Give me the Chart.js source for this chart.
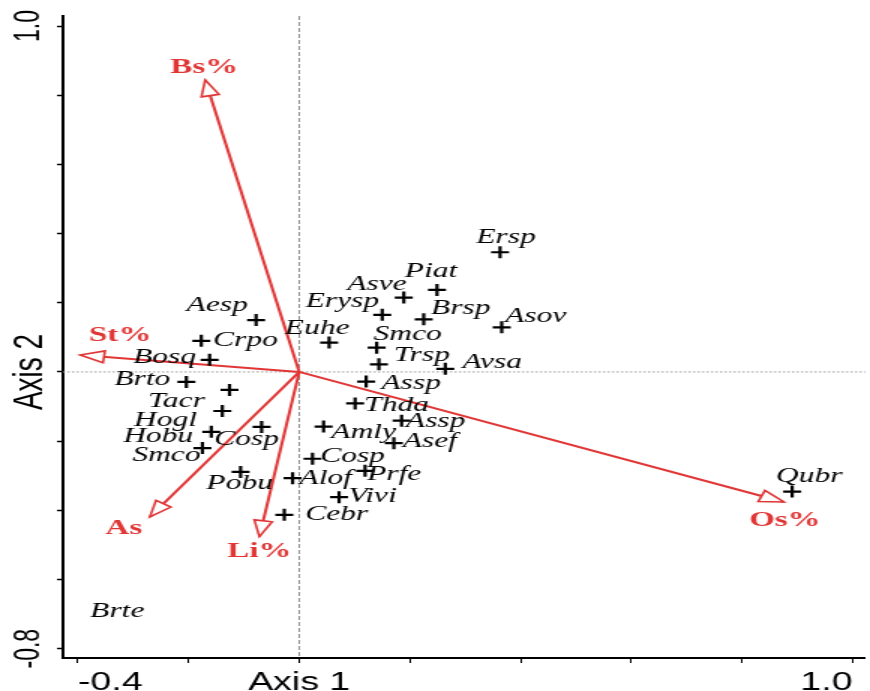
<!DOCTYPE html>
<html><head><meta charset="utf-8">
<script src="https://cdn.jsdelivr.net/npm/chart.js@4/dist/chart.umd.min.js"></script>
<style>html,body{margin:0;padding:0;background:#fff;overflow:hidden;width:870px;height:691px}
#wrap{width:585px;height:691px;transform:scaleX(1.5);transform-origin:0 0}
#c{display:block}</style>
</head><body>
<div id="wrap"><canvas id="c" width="585" height="691" style="width:585px;height:691px"></canvas></div>
<script>
// ---- data ----
const speciesNames = ['Ersp','Piat','Asve','Erysp','Brsp','Asov','Euhe','Smco','Trsp','Avsa','Assp','Thda','Assp','Amly','Asef','Cosp','Alof','Prfe','Vivi','Cebr','Qubr','Aesp','Crpo','Bosq','Brto','Tacr','Hogl','Hobu','Smco','Cosp','Pobu','Brte'];
const speciesX = [0.363,0.249,0.189,0.150,0.225,0.366,0.054,0.140,0.144,0.264,0.121,0.101,0.185,0.044,0.171,0.024,-0.012,0.119,0.072,-0.027,0.891,-0.078,-0.177,-0.162,-0.204,-0.126,-0.139,-0.159,-0.175,-0.068,-0.106,-0.329];
const speciesY = [0.346,0.237,0.215,0.165,0.152,0.129,0.085,0.070,0.022,0.009,-0.028,-0.091,-0.141,-0.158,-0.206,-0.251,-0.307,-0.286,-0.362,-0.413,-0.346,0.150,0.090,0.035,-0.029,-0.052,-0.113,-0.173,-0.220,-0.159,-0.289,-0.693];
const envNames = ['Bs%','St%','As','Li%','Os%'];
const envX = [-0.170,-0.396,-0.270,-0.072,0.876];
const envY = [0.844,0.049,-0.419,-0.476,-0.376];
const xTickValues = [-0.4,-0.2,0,0.2,0.4,0.6,0.8,1.0];
const xTickLabels = ['-0.4','','Axis 1','','','','','1.0'];
const yTickValues = [-0.8,-0.6,-0.4,-0.2,0,0.2,0.4,0.6,0.8,1.0];
const yTickLabels = ['-0.8','','','','Axis 2','','','','','1.0'];

// ---- layout (label placement, display px) ----
const STRETCH = 1.5;
const speciesLabelOffset = [[6,-15],[-6,-18],[-27,-13],[-40,-13],[37,-11],[34,-11],[-12,-14],[31,-13],[43,-9],[47,-6],[45,2],[41.5,2],[34,1],[40,6],[36,-2],[40,-2],[33,0],[29,4],[33.5,-1],[52.5,0],[17,-15],[-39,-15],[44,0],[-45,-2],[-44,-2],[-53,12],[-57,9],[-53,5],[-36,7],[-15,13],[-1,12],[0,0]];
const envLabelOffset = [[-1,-13],[40,-20],[-26,11],[0,15],[1,18]];
const RED = '#e03636';

const zeroPad = s => { s.paddingLeft = 0; s.paddingRight = 0; s.paddingTop = 0; s.paddingBottom = 0; };

const plugin = {
  id: 'biplot',
  beforeDatasetsDraw(chart) {
    const {ctx, chartArea: a, scales: {x, y}} = chart;
    const x0 = x.getPixelForValue(0), y0 = y.getPixelForValue(0);
    ctx.save();
    ctx.strokeStyle = '#777'; ctx.lineWidth = 0.8; ctx.setLineDash([4, 2]);
    ctx.beginPath(); ctx.moveTo(x0, a.top); ctx.lineTo(x0, a.bottom); ctx.stroke();
    ctx.strokeStyle = '#999'; ctx.lineWidth = 1; ctx.setLineDash([1.5, 1.5]);
    ctx.beginPath(); ctx.moveTo(a.left, y0); ctx.lineTo(a.right, y0); ctx.stroke();
    ctx.restore();
  },
  afterDatasetsDraw(chart) {
    const {ctx, scales: {x, y}} = chart;
    const ox = x.getPixelForValue(0), oy = y.getPixelForValue(0);
    ctx.save();
    envNames.forEach((n, i) => {
      const tx = x.getPixelForValue(envX[i]), ty = y.getPixelForValue(envY[i]);
      const dx = tx - ox, dy = ty - oy, len = Math.hypot(dx, dy);
      const ux = dx / len, uy = dy / len;
      const L = 16, hw = 6;
      const bx = tx - L * ux, by = ty - L * uy;
      ctx.beginPath();
      ctx.moveTo(tx, ty);
      ctx.lineTo(bx - hw * uy, by + hw * ux);
      ctx.lineTo(bx + hw * uy, by - hw * ux);
      ctx.closePath();
      ctx.fillStyle = '#fff'; ctx.fill();
      ctx.strokeStyle = RED; ctx.lineWidth = 1.6; ctx.stroke();
    });
    ctx.textAlign = 'center'; ctx.textBaseline = 'middle';
    ctx.font = 'bold 22px "Liberation Serif", "Times New Roman", serif';
    ctx.fillStyle = RED;
    envNames.forEach((n, i) => {
      const px = x.getPixelForValue(envX[i]) + envLabelOffset[i][0] / STRETCH;
      const py = y.getPixelForValue(envY[i]) + envLabelOffset[i][1];
      ctx.fillText(n, px, py);
    });
    ctx.font = 'italic 21px "Liberation Serif", "Times New Roman", serif';
    ctx.fillStyle = '#000';
    speciesNames.forEach((n, i) => {
      const px = x.getPixelForValue(speciesX[i]) + speciesLabelOffset[i][0] / STRETCH;
      const py = y.getPixelForValue(speciesY[i]) + speciesLabelOffset[i][1];
      ctx.fillText(n, px, py);
    });
    ctx.restore();
  }
};

const datasets = [{
  label: 'species',
  data: speciesX.map((v, i) => ({x: v, y: speciesY[i]})),
  pointStyle: 'cross',
  pointRadius: c => speciesNames[c.dataIndex] === 'Brte' ? 0 : 6,
  pointBorderColor: '#000',
  pointBorderWidth: 2.2,
  showLine: false
}].concat(envNames.map((n, i) => ({
  label: n,
  data: [{x: 0, y: 0}, {x: envX[i], y: envY[i]}],
  showLine: true,
  borderColor: RED,
  borderWidth: 2,
  pointRadius: 0
})));

new Chart(document.getElementById('c'), {
  type: 'scatter',
  data: {datasets},
  options: {
    responsive: false,
    animation: false,
    devicePixelRatio: 1,
    layout: {padding: {top: 16, right: 0, left: 0, bottom: 0}},
    plugins: {legend: {display: false}, tooltip: {enabled: false}},
    scales: {
      x: {
        type: 'linear', min: -0.427, max: 1.023,
        afterBuildTicks: s => { s.ticks = xTickValues.map(v => ({value: v})); },
        afterFit: s => { s.height = 33; zeroPad(s); },
        ticks: {
          autoSkip: false, align: 'inner', padding: 5, color: '#000',
          maxRotation: 0, minRotation: 0,
          font: {family: '"Liberation Sans", Arial, sans-serif', size: 25},
          callback: (v, i) => xTickLabels[i]
        },
        grid: {drawOnChartArea: false, drawTicks: true, tickLength: 5, tickColor: '#000', tickWidth: 1},
        border: {display: true, color: '#000', width: 2}
      },
      y: {
        type: 'linear', min: -0.827, max: 1.029,
        afterBuildTicks: s => { s.ticks = yTickValues.map(v => ({value: v})); },
        afterFit: s => { s.width = 42; zeroPad(s); },
        ticks: {
          autoSkip: false, minRotation: 90, maxRotation: 90, crossAlign: 'center', padding: -20,
          color: '#000',
          font: c => (c.tick && c.tick.value === 0)
            ? {family: '"Liberation Sans", Arial, sans-serif', size: 28}
            : {family: '"Liberation Sans Narrow", "Arial Narrow", "Liberation Sans", sans-serif', size: 23},
          callback: (v, i) => yTickLabels[i]
        },
        grid: {drawOnChartArea: false, drawTicks: true, tickLength: 4, tickColor: '#000', tickWidth: 1.5},
        border: {display: true, color: '#000', width: 2}
      }
    }
  },
  plugins: [plugin]
});
</script></body></html>
